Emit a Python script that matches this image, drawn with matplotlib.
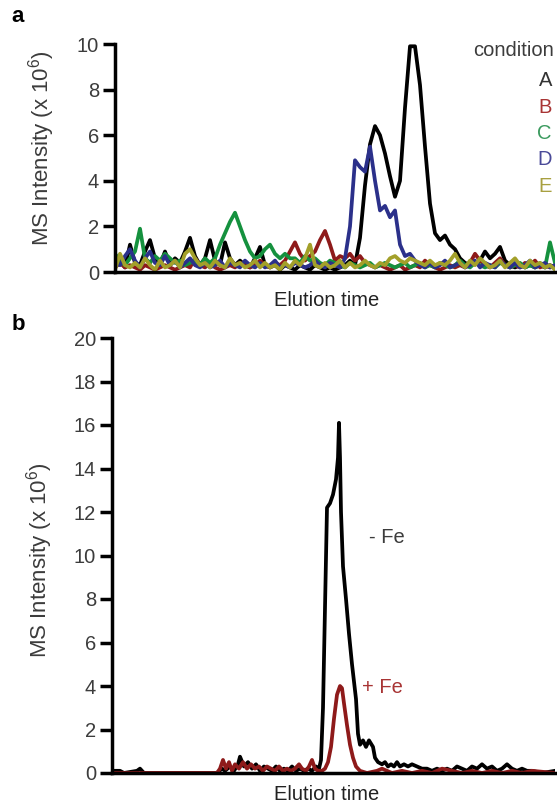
import numpy as np
import matplotlib
matplotlib.use('Agg')
import matplotlib.pyplot as plt

plt.rcParams['font.family'] = ['Liberation Sans', 'DejaVu Sans']
plt.rcParams['mathtext.fontset'] = 'custom'
plt.rcParams['mathtext.rm'] = 'Liberation Sans'

# panel a: five conditions, evenly spaced scans
cond_a = [0.3, 0.5, 0.2, 1.2, 0.4, 0.3, 0.9, 1.4, 0.6, 0.3,
          0.9, 0.3, 0.6, 0.4, 0.9, 1.5, 0.7, 0.3, 0.6, 1.4,
          0.5, 0.3, 1.3, 0.6, 0.3, 0.5, 0.3, 0.2, 0.6, 1.1,
          0.3, 0.2, 0.3, 0.1, 0.3, 0.2, 0.1, 0.3, 0.2, 0.1,
          0.3, 0.2, 0.1, 0.2, 0.1, 0.2, 0.3, 0.5, 0.3, 1.5,
          3.8, 5.6, 6.4, 6.0, 5.2, 4.2, 3.3, 4.0, 7.2, 9.9,
          9.9, 8.2, 5.5, 3.0, 1.7, 1.4, 1.6, 1.2, 1.0, 0.6,
          0.4, 0.3, 0.4, 0.5, 0.9, 0.6, 0.8, 1.1, 0.5, 0.3,
          0.2, 0.3, 0.2, 0.3, 0.2, 0.3, 0.2, 0.3, 0.2]
cond_b = [0.2, 0.4, 0.2, 0.3, 0.2, 0.1, 0.3, 0.2, 0.1, 0.2,
          0.3, 0.2, 0.1, 0.2, 0.3, 0.2, 0.6, 0.3, 0.2, 0.4,
          0.2, 0.1, 0.2, 0.3, 0.2, 0.4, 0.3, 0.2, 0.3, 0.5,
          0.3, 0.2, 0.4, 0.3, 0.5, 0.9, 1.3, 0.8, 0.5, 0.7,
          0.9, 1.4, 1.8, 1.2, 0.5, 0.7, 0.6, 0.8, 0.5, 0.7,
          0.4, 0.3, 0.2, 0.3, 0.2, 0.1, 0.2, 0.3, 0.1, 0.2,
          0.3, 0.2, 0.5, 0.3, 0.2, 0.1, 0.2, 0.3, 0.2, 0.3,
          0.2, 0.4, 0.8, 0.5, 0.3, 0.2, 0.4, 0.6, 0.3, 0.2,
          0.3, 0.2, 0.4, 0.3, 0.5, 0.2, 0.3, 0.2, 0.3]
cond_c = [0.8, 0.5, 0.3, 0.6, 0.9, 1.9, 0.6, 0.4, 0.7, 0.5,
          0.8, 0.6, 0.4, 0.5, 0.3, 0.4, 0.5, 0.3, 0.6, 0.4,
          0.6, 1.2, 1.7, 2.2, 2.6, 2.0, 1.4, 0.9, 0.6, 0.7,
          1.0, 1.2, 0.8, 0.6, 0.8, 0.6, 0.6, 0.4, 0.7, 0.5,
          0.6, 0.4, 0.3, 0.5, 0.4, 0.3, 0.2, 0.4, 0.3, 0.2,
          0.3, 0.4, 0.2, 0.3, 0.4, 0.3, 0.2, 0.3, 0.4, 0.2,
          0.3, 0.4, 0.2, 0.3, 0.2, 0.4, 0.3, 0.2, 0.3, 0.5,
          0.3, 0.2, 0.4, 0.3, 0.2, 0.3, 0.2, 0.4, 0.3, 0.2,
          0.3, 0.4, 0.2, 0.3, 0.2, 0.4, 0.2, 1.3, 0.4]
cond_d = [0.4, 0.3, 0.7, 1.0, 0.5, 0.2, 0.6, 0.9, 0.4, 0.3,
          0.7, 0.3, 0.5, 0.2, 0.4, 0.6, 0.3, 0.2, 0.4, 0.2,
          0.3, 0.5, 0.2, 0.4, 0.3, 0.2, 0.5, 0.3, 0.2, 0.4,
          0.2, 0.3, 0.5, 0.2, 0.3, 0.2, 0.4, 0.3, 0.2, 0.3,
          0.5, 0.3, 0.2, 0.4, 0.3, 0.2, 0.6, 2.0, 4.9, 4.6,
          4.4, 5.5, 4.0, 2.7, 2.9, 2.4, 2.7, 1.2, 0.7, 0.8,
          0.5, 0.3, 0.2, 0.4, 0.2, 0.3, 0.5, 0.2, 0.3, 0.4,
          0.2, 0.3, 0.5, 0.2, 0.4, 0.3, 0.2, 0.5, 0.3, 0.2,
          0.4, 0.2, 0.3, 0.5, 0.2, 0.3, 0.4, 0.2, 0.3]
cond_e = [0.1, 0.8, 0.3, 0.2, 0.4, 0.2, 0.6, 0.3, 0.1, 0.5,
          0.2, 0.3, 0.5, 0.2, 0.8, 1.0, 0.6, 0.3, 0.4, 0.2,
          0.5, 0.3, 0.2, 0.6, 0.3, 0.4, 0.2, 0.3, 0.5, 0.2,
          0.4, 0.2, 0.3, 0.1, 0.4, 0.2, 0.5, 0.3, 0.6, 1.2,
          0.3, 0.2, 0.4, 0.2, 0.3, 0.5, 0.2, 0.4, 0.2, 0.3,
          0.5, 0.3, 0.2, 0.4, 0.3, 0.6, 0.7, 0.5, 0.4, 0.6,
          0.5, 0.4, 0.3, 0.5, 0.3, 0.4, 0.3, 0.5, 0.8, 0.4,
          0.2, 0.5, 0.3, 0.6, 0.4, 0.2, 0.3, 0.5, 0.2, 0.4,
          0.6, 0.3, 0.2, 0.5, 0.3, 0.4, 0.2, 0.3, 0.1]

names_a = ['A', 'B', 'C', 'D', 'E']
line_colors = ['#000000', '#8e1a1a', '#15913e', '#2b308a', '#a3a02a']
text_colors = ['#333333', '#a83434', '#3a9a5e', '#4a4a98', '#a8a040']

# panel b: minus / plus iron
t_minus = [0, 8, 12, 25, 28, 32, 60, 105, 110, 113, 118, 122, 126, 128, 132, 136,
           140, 144, 148, 152, 156, 160, 164, 168, 172, 176, 180, 184, 188, 192,
           196, 200, 204, 207, 209, 211, 215, 218, 221, 224, 226, 227, 228, 229,
           231, 234, 237, 240, 244, 246, 248, 251, 254, 257, 261, 263, 266, 270,
           273, 276, 279, 282, 285, 288, 292, 296, 300, 305, 310, 315, 320, 325,
           330, 335, 340, 345, 350, 355, 360, 365, 370, 375, 380, 385, 390, 395,
           400, 405, 410, 415, 420, 430, 443]
i_minus = [0.1, 0.1, 0.0, 0.1, 0.2, 0.0, 0.0, 0.0, 0.2, 0.1, 0.3, 0.1, 0.4, 0.75, 0.3, 0.5,
           0.2, 0.4, 0.1, 0.3, 0.2, 0.1, 0.3, 0.1, 0.2, 0.1, 0.3, 0.1, 0.2, 0.1,
           0.2, 0.1, 0.3, 0.2, 0.6, 3.0, 12.2, 12.4, 12.8, 13.5, 14.5, 16.1, 14.5, 12.0,
           9.5, 8.0, 6.4, 5.0, 3.4, 1.8, 1.3, 1.5, 1.2, 1.5, 1.2, 0.7, 0.5, 0.4,
           0.5, 0.3, 0.4, 0.3, 0.5, 0.3, 0.4, 0.3, 0.4, 0.3, 0.2, 0.2, 0.1, 0.2,
           0.1, 0.2, 0.1, 0.3, 0.2, 0.1, 0.3, 0.2, 0.4, 0.2, 0.3, 0.1, 0.2, 0.4,
           0.2, 0.1, 0.2, 0.1, 0.1, 0.0, 0.1]
t_plus = [0, 105, 108, 111, 114, 117, 120, 123, 127, 131, 135, 139, 143, 147, 151, 155,
          159, 163, 167, 171, 175, 179, 183, 187, 190, 194, 197, 200, 203, 206,
          210, 213, 216, 219, 222, 225, 228, 230, 232, 235, 238, 241, 244, 248,
          255, 265, 270, 275, 280, 290, 300, 310, 320, 330, 340, 350, 360, 370,
          380, 390, 400, 410, 420, 443]
i_plus = [0.0, 0.0, 0.2, 0.6, 0.2, 0.5, 0.1, 0.4, 0.2, 0.5, 0.2, 0.4, 0.2, 0.3, 0.1, 0.3,
          0.2, 0.1, 0.3, 0.1, 0.2, 0.1, 0.2, 0.4, 0.2, 0.1, 0.3, 0.6, 0.2, 0.1,
          0.1, 0.2, 0.5, 1.2, 2.5, 3.6, 4.0, 3.9, 3.2, 2.2, 1.3, 0.7, 0.3, 0.1,
          0.0, 0.1, 0.2, 0.1, 0.0, 0.1, 0.0, 0.1, 0.0, 0.2, 0.1, 0.0, 0.1, 0.0,
          0.1, 0.0, 0.1, 0.0, 0.1, 0.0]

W, H = 557, 808
fig = plt.figure(figsize=(W / 100, H / 100), dpi=100)
GREY = '#3c3c3c'


def style_axis(ax, ymax, step):
    for s in ['top', 'right']:
        ax.spines[s].set_visible(False)
    for s in ['left', 'bottom']:
        ax.spines[s].set_linewidth(2.5)
    ax.set_ylim(0, ymax)
    ax.set_yticks(np.arange(0, ymax + 1, step))
    ax.set_xticks([])
    ax.tick_params(axis='y', direction='out', length=8.5, width=2.5, labelsize=14.5,
                   pad=3, labelcolor=GREY)


# panel a
ax1 = fig.add_axes([115 / W, 1 - 272 / H, 440 / W, 228 / H])
x_a = np.arange(len(cond_a))
for vals, c in zip([cond_a, cond_b, cond_c, cond_d, cond_e], line_colors):
    ax1.plot(x_a, vals, color=c, lw=2.7)
ax1.set_xlim(0, len(cond_a) - 1)
style_axis(ax1, 10, 2)

fig.text(554 / W, 1 - 51 / H, 'condition', ha='right', va='center', fontsize=14.5, color=GREY)
for k, (n, c) in enumerate(zip(names_a, text_colors)):
    fig.text(552 / W, 1 - (81 + 26.3 * k) / H, n, ha='right', va='center', fontsize=14.5, color=c)

# panel b
ax2 = fig.add_axes([112 / W, 1 - 773 / H, 443 / W, 435 / H])
ax2.plot(t_minus, i_minus, color='#000000', lw=2.7)
ax2.plot(t_plus, i_plus, color='#8e1a1a', lw=2.7)
ax2.set_xlim(0, 443)
style_axis(ax2, 20, 2)
ax2.text(257, 10.85, '- Fe', ha='left', va='center', fontsize=14.5, color=GREY)
ax2.text(250, 3.95, '+ Fe', ha='left', va='center', fontsize=14.5, color='#a83434')

# labels
ylab = 'MS Intensity (x 10$^6$)'
fig.text(42 / W, 1 - 148 / H, ylab, rotation=90, ha='center', va='center', fontsize=16, color=GREY)
fig.text(40 / W, 1 - 560 / H, ylab, rotation=90, ha='center', va='center', fontsize=16, color=GREY)
fig.text(327 / W, 1 - 300 / H, 'Elution time', ha='center', va='center', fontsize=14.5, color='#222222')
fig.text(327 / W, 1 - 795 / H, 'Elution time', ha='center', va='center', fontsize=14.5, color='#222222')
fig.text(18 / W, 1 - 17 / H, 'a', ha='center', va='center', fontsize=16, fontweight='bold')
fig.text(18 / W, 1 - 325 / H, 'b', ha='center', va='center', fontsize=16, fontweight='bold')

plt.savefig('out.png', dpi=100)
plt.close()
